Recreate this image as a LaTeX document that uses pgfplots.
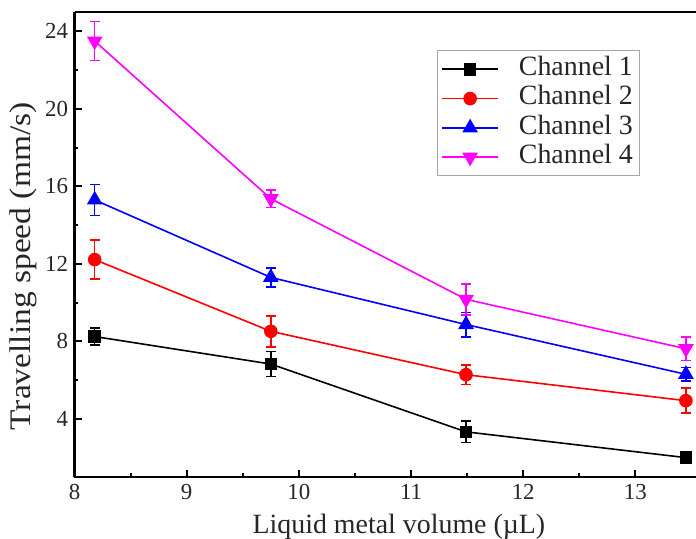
\documentclass[border=0pt]{standalone}
\usepackage{fontspec}
\setmainfont{Liberation Serif}
\newfontfamily\ylabfont[FakeStretch=1.12]{Liberation Serif}
\usepackage{pgfplots}
\pgfplotsset{compat=1.18}
\definecolor{mag}{RGB}{255,0,255}
\definecolor{rd}{RGB}{255,0,0}
\definecolor{bl}{RGB}{0,0,255}
\begin{document}
\begin{tikzpicture}
\begin{axis}[
  scale only axis, width=621.5bp, height=465bp,
  xmin=8, xmax=13.54, ymin=1, ymax=25,
  axis x line*=bottom, axis y line*=left,
  axis line style={line width=2.5bp, -},
  xtick={8,9,10,11,12,13}, ytick={4,8,12,16,20,24},
  xticklabels={8,9,10,11,12,13}, yticklabels={4,8,12,16,20,24},
  minor x tick num=1, minor y tick num=1,
  tick align=inside,
  major tick length=7bp, minor tick length=4bp,
  every tick/.style={line width=2bp, black},
  tick label style={font=\fontsize{23}{23}\selectfont, text=black!85},
  xticklabel style={yshift=-4bp},
  yticklabel style={xshift=-3bp},
  xlabel={Liquid metal volume (µL)},
  ylabel={\ylabfont Travelling speed (mm/s)},
  xlabel style={font=\fontsize{28}{28}\selectfont, text=black!85, at={(axis description cs:0.522,0)}, anchor=center, yshift=-50bp},
  ylabel style={font=\fontsize{30}{30}\selectfont, text=black!85, at={(axis description cs:-0.0829,0.453)}, anchor=center},
  legend cell align=left,
  legend style={at={(axis description cs:0.583,0.918)}, anchor=north west,
    draw=black!35, line width=1bp, font=\fontsize{28}{28}\selectfont,
    text=black!85, row sep=0bp, column sep=17bp, inner xsep=4bp, inner ysep=4bp,
    nodes={inner xsep=3bp, inner ysep=2bp, text height=19bp, text depth=6.3bp}},
  legend image code/.code={
    \draw[mark repeat=2,mark phase=2,#1] plot coordinates {(0bp,0bp) (28bp,0bp) (56bp,0bp)};},
  every axis plot/.append style={line width=1.6bp},
  error bars/y dir=both, error bars/y explicit,
  error bars/error bar style={line width=1.6bp},
  error bars/error mark options={rotate=90, mark size=5bp, line width=1.6bp},
]
\addplot[black, mark=square*, mark size=5.5bp]
  table[x=x, y=y, y error=e] {
x y e
8.18 8.25 0.43
9.75 6.83 0.65
11.49 3.33 0.55
13.45 2.00 0.30
};
\addlegendentry{Channel 1}
\addplot[rd, mark=*, mark size=6bp]
  table[x=x, y=y, y error=e] {
x y e
8.18 12.22 1.0
9.75 8.52 0.8
11.49 6.28 0.5
13.45 4.94 0.65
};
\addlegendentry{Channel 2}
\addplot[bl, mark=triangle*, mark size=7.5bp]
  table[x=x, y=y, y error=e] {
x y e
8.18 15.3 0.8
9.75 11.3 0.5
11.49 8.87 0.63
13.45 6.3 0.35
};
\addlegendentry{Channel 3}
\addplot[mag, mark=triangle*, mark size=7.5bp, mark options={rotate=180}]
  table[x=x, y=y, y error=e] {
x y e
8.18 23.5 1.0
9.75 15.36 0.45
11.49 10.17 0.8
13.45 7.62 0.6
};
\addlegendentry{Channel 4}
\coordinate (bl) at (rel axis cs:0,0);
\coordinate (tl) at (rel axis cs:0,1);
\coordinate (tr) at (rel axis cs:1,1);
\end{axis}
\draw[line width=2.5bp] (tl) -- (tr);
\pgfresetboundingbox
\path[use as bounding box] ([xshift=-74.5bp,yshift=-62bp]bl) rectangle ([yshift=12bp]tr);
\end{tikzpicture}
\end{document}
